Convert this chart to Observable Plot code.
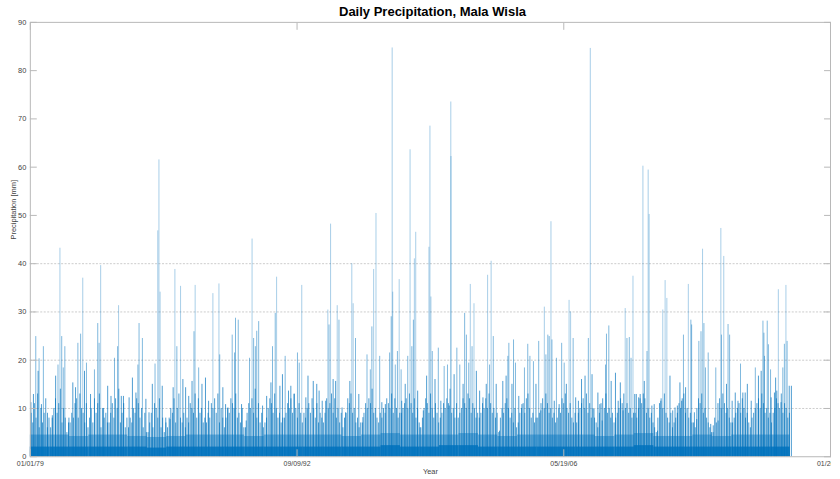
<!DOCTYPE html>
<html><head><meta charset="utf-8">
<script src="https://cdn.jsdelivr.net/npm/d3@7"></script>
<script src="https://cdn.jsdelivr.net/npm/@observablehq/plot@0.6"></script>
<style>
body{margin:0;background:#fff;font-family:"Liberation Sans",Arial,Helvetica,sans-serif;}
#wrap{width:831px;height:479px;overflow:hidden;position:relative;background:#fff;}
#title{position:absolute;left:30px;top:0;width:805px;height:22px;line-height:24px;text-align:center;font-weight:bold;font-size:13px;color:#000;z-index:2;}
</style></head><body>
<div id="wrap"><div id="chart"></div><div id="title">Daily Precipitation, Mala Wisla</div></div>
<script>
// Daily precipitation spikes: [decimal year, mm]
const peaks = [
[1979.03,11.2],[1979.16,12.9],[1979.28,24.9],[1979.40,17.7],[1979.45,20.3],[1979.57,10.8],[1979.67,22.8],[1979.88,9],[1980.13,8.5],[1980.30,16.7],[1980.42,19],[1980.52,43.2],[1980.61,24.9],[1980.69,18.4],[1980.77,22.8],[1980.98,8],[1981.18,15.3],[1981.32,14.3],[1981.44,23.5],[1981.58,25.4],[1981.69,37],[1981.78,17.7],[1981.88,19.4],[1982.09,12.9],[1982.29,18],[1982.46,27.6],[1982.53,23.5],[1982.61,39.6],[1982.76,10],[1982.97,14.6],[1983.14,12.5],[1983.32,20.4],[1983.48,22.8],[1983.53,31.3],
[1983.67,12.5],[1983.78,12.5],[1984.07,12.2],[1984.24,16.3],[1984.42,13.2],[1984.52,19],[1984.58,27.6],[1984.75,24.5],[1984.93,11.9],[1985.09,9.1],[1985.26,15],[1985.40,19.2],[1985.54,46.8],[1985.60,61.5],[1985.66,34.1],[1985.77,14.6],[1985.95,8],[1986.17,7.7],[1986.33,14.3],[1986.42,38.8],[1986.52,22.8],[1986.71,35.3],[1986.83,16],[1986.97,14.3],[1987.13,12.5],[1987.30,15.6],[1987.40,25.9],[1987.46,35.5],[1987.64,18.4],[1987.81,15],[1987.99,16.3],[1988.15,11.5],[1988.37,33.8],
[1988.68,35.8],[1988.72,21.1],[1988.88,14.3],[1989.02,10.8],[1989.14,10.1],[1989.36,25.2],[1989.48,21.5],[1989.53,28.7],[1989.67,28.3],[1989.84,10.8],[1990.08,7.4],[1990.25,20.4],[1990.38,45.1],[1990.46,24.5],[1990.55,22.8],[1990.62,26],[1990.72,28],[1990.92,10.5],[1991.13,12.5],[1991.35,15.3],[1991.43,22.8],[1991.57,29.7],[1991.64,37.2],[1991.81,14.6],[1991.94,17],[1992.08,20.8],[1992.25,13.6],[1992.37,14.6],[1992.54,12.9],[1992.71,21.5],[1992.80,19.4],[1992.93,35.5],[1993.14,12.2],
[1993.25,16.7],[1993.52,15.6],[1993.70,15],[1993.82,13.6],[1993.98,11.5],[1994.16,11.5],[1994.27,30.4],[1994.33,27.3],[1994.41,48.2],[1994.54,16],[1994.67,15.6],[1994.75,31.3],[1994.84,28.3],[1995.00,10.1],[1995.18,9.1],[1995.40,15.6],[1995.50,40],[1995.57,31.7],[1995.69,24.5],[1995.86,12.9],[1996.07,8.1],[1996.28,21.1],[1996.45,18],[1996.53,26.9],[1996.62,38.8],[1996.74,50.4],[1996.93,20.8],[1997.04,11.2],[1997.22,10.8],[1997.44,21.5],[1997.52,29],[1997.57,84.7],[1997.60,34.1],[1997.73,19],[1997.84,21.8],[1997.93,36.7],[1998.03,18],[1998.06,11.5],
[1998.24,15],[1998.37,20.8],[1998.49,63.6],[1998.58,22.8],[1998.66,28.3],[1998.71,41],[1998.78,46.5],[1998.88,13.6],[1999.00,6],[1999.17,9.5],[1999.34,16.7],[1999.46,43.4],[1999.51,68.5],[1999.56,33.1],[1999.63,21.8],[1999.77,16],[1999.94,22.5],[2000.07,11.5],[2000.24,18.7],[2000.41,19],[2000.50,10.5],[2000.58,73.5],[2000.59,62.2],[2000.75,17],[2000.89,22.5],[2001.04,19],[2001.21,15],[2001.29,29.7],[2001.38,25.2],[2001.50,19.4],[2001.58,35.7],[2001.67,22.8],[2001.77,31.7],[2001.89,17.7],[2002.06,13.6],[2002.23,12.2],[2002.40,15],[2002.47,37.6],[2002.57,19],[2002.65,40.5],[2002.76,24.9],[2002.91,15],
[2003.08,5.3],[2003.25,15.6],[2003.42,16.7],[2003.51,20.8],[2003.56,23.5],[2003.72,15],[2003.80,24.2],[2003.90,19.4],[2004.07,12.5],[2004.23,10.8],[2004.36,18.4],[2004.53,23.3],[2004.64,20.8],[2004.82,19.7],[2004.95,15],[2005.09,23.9],[2005.20,9.5],[2005.38,31],[2005.46,21.1],[2005.56,25.2],[2005.63,24.9],[2005.72,48.7],[2005.77,24.2],[2005.89,11.5],[2006.00,20.4],[2006.14,10.8],[2006.27,23.5],[2006.40,19.4],[2006.51,15],[2006.65,32.4],[2006.73,30],[2006.86,24.5],[2006.99,12.2],[2007.13,11.5],[2007.29,16],[2007.47,16.7],[2007.64,24.5],[2007.74,84.6],
[2007.83,17],[2007.93,9.8],[2008.13,13.2],[2008.23,10.8],[2008.35,7.4],[2008.52,19],[2008.57,25.4],[2008.69,27.1],[2008.81,15.6],[2009.03,17.3],[2009.17,11.5],[2009.28,15.3],[2009.42,9.5],[2009.53,30.7],[2009.62,24.5],[2009.74,24.7],[2009.83,20.4],[2009.93,37.4],[2010.02,12.9],[2010.10,12.9],[2010.22,12.2],[2010.30,12.9],[2010.44,60.2],[2010.51,15.6],[2010.65,21.8],[2010.71,59.4],[2010.76,50.2],[2010.90,10.5],[2011.02,10.8],[2011.19,5.3],[2011.36,11.5],[2011.46,30.4],[2011.58,36.5],[2011.67,32.8],[2011.83,16.7],[2011.97,9.5],[2012.09,10.1],[2012.21,10.5],[2012.34,15.3],[2012.43,11.5],[2012.52,25.2],[2012.63,14.3],
[2012.77,35.7],[2012.90,28.3],[2012.94,27.3],[2013.08,9.1],[2013.20,7.7],[2013.31,23.9],[2013.42,25.9],[2013.50,43],[2013.57,27.6],[2013.65,18.4],[2013.79,21.5],[2013.92,6.7],[2014.05,6.4],[2014.18,18.4],[2014.30,7.4],[2014.44,47.3],[2014.47,25.2],[2014.59,41.5],[2014.73,15],[2014.81,27.4],[2014.89,25.2],[2015.02,11.5],[2015.18,13.2],[2015.32,11.5],[2015.45,19.2],[2015.57,13.2],[2015.69,13.2],[2015.80,15],[2016.00,11.5],[2016.21,18.4],[2016.37,16.7],[2016.51,17.7],[2016.60,28.1],[2016.65,25.6],[2016.68,20.8],[2016.82,28.1],[2016.88,23.2],[2016.99,18],[2017.02,12.2],[2017.19,13.2],[2017.25,16.3],[2017.31,13.6],[2017.39,34.6],[2017.53,11.2],[2017.62,18.4],[2017.70,23.3],[2017.78,35.5],[2017.84,23.9],[2017.95,14.6],[2018.06,14.6]
];

// Everyday (minor) rain days, one estimate per month of each year (mm)
const minorYears = [1979,1980,1981,1982,1983,1984,1985,1986,1987,1988,1989,1990,1991,1992,1993,1994,1995,1996,1997,1998,1999,2000,2001,2002,2003,2004,2005,2006,2007,2008,2009,2010,2011,2012,2013,2014,2015,2016,2017];
const minorMonths = [0.5,1.5,2.5,3.5,4.5,5.5,6.5,7.5,8.5,9.5,10.5,11.5];
const minorValues = [
[9,7,11,8,13,6,10,7,9,12,6,8],[6,8,10,12,9,11,14,7,10,8,5,7],[7,9,8,11,12,8,13,10,9,7,11,6],[8,10,7,12,9,11,13,6,10,8,9,7],
[7,9,11,8,12,10,14,7,9,11,6,8],[6,8,7,10,9,12,11,8,10,6,9,5],[5,7,9,6,11,10,8,12,6,8,5,7],[6,8,10,9,12,7,10,13,8,7,9,6],
[8,7,11,10,9,13,8,12,9,10,7,8],[7,9,8,11,10,12,9,13,7,10,8,6],[8,10,9,12,11,10,13,8,9,7,10,6],[6,9,11,10,12,9,14,8,11,7,9,6],
[7,8,10,12,11,9,13,10,8,9,7,8],[8,9,11,10,12,9,13,10,8,11,9,7],[9,8,10,11,9,12,10,8,11,7,9,8],[7,9,12,10,11,13,9,12,8,10,7,9],
[6,8,9,12,11,13,9,10,7,8,6,7],[7,9,11,10,12,11,14,9,10,8,7,9],[8,10,9,12,11,10,13,9,12,10,8,9],[9,10,11,12,10,13,11,9,12,8,10,7],
[6,8,10,12,11,9,13,10,8,11,9,7],[8,9,11,10,12,11,14,9,10,8,11,8],[9,10,12,11,10,13,12,9,11,10,8,9],[8,9,11,10,12,10,13,11,9,10,8,9],
[5,8,10,9,11,12,10,8,9,7,10,6],[7,9,10,11,9,12,13,10,8,9,7,8],[8,9,11,12,10,13,11,9,10,8,9,7],[8,10,9,12,11,13,10,9,11,8,7,9],
[7,9,10,11,12,10,13,9,11,8,10,8],[7,6,9,11,12,10,13,9,10,8,9,7],[8,9,10,12,11,13,10,11,9,10,8,9],[9,8,10,12,11,13,12,9,10,8,9,7],
[6,5,8,11,12,10,13,9,8,7,9,6],[7,8,9,11,10,12,13,9,10,8,9,7],[7,6,10,12,11,13,9,10,8,7,6,5],[5,8,7,11,12,10,13,11,9,10,8,7],
[7,8,9,10,11,9,12,10,8,9,7,6],[8,9,10,11,12,10,13,11,9,10,8,9],[7,9,10,12,11,10,13,9,11,10,8,9]
];

// Saturated low bands of everyday values, read per year (mm)
const denseLevel = [2,2,2,2,2,2,1.8,2,2,2,2,2,2,2,2,2,2,2,2.3,2,2,2.3,2.3,2,2,2,2,2,2,2,2,2.3,2,2,2,2,2,2,2];
const busyLevel  = [4.5,4.5,4.2,4.5,4.5,4.2,4,4.2,4.5,4.5,4.5,4.2,4.5,4.5,4.5,4.5,4.2,4.5,4.8,4.5,4.5,4.5,4.8,4.5,4.2,4.5,4.5,4.5,4.5,4.2,4.5,4.8,4.2,4.2,4.5,4.2,4.5,4.5,4.5];
const dataEnd = 2018.1;

const xDomain = ["1979-01-01", "2020-01-26"];
const xTickDates = ["1979-01-01", "1992-09-09", "2006-05-19", "2020-01-26"];
const yTicks = [0,10,20,30,40,50,60,70,80,90];
const gridValues = [10,20,30,40];
const yLabel = "Precipitation [mm]";
const xLabel = "Year";

const toDate = y => { const yr = Math.floor(y); const s = Date.UTC(yr,0,1), e = Date.UTC(yr+1,0,1); return new Date(s + (y-yr)*(e-s)); };
const peakData = peaks.map(([y,v]) => ({date: toDate(y), value: v}));
const minorData = minorYears.flatMap((y,i) => minorMonths.map((m,j) => ({date: toDate(y + m/12), value: minorValues[i][j]})));
const bandData = minorYears.map((y,i) => ({x1: toDate(y), x2: toDate(Math.min(y+1, dataEnd)), dense: denseLevel[i], busy: busyLevel[i]}));
const xt = xTickDates.map(d => new Date(d + "T00:00Z"));
const fmt = d3.utcFormat("%m/%d/%y");
const blue = "#0072BD";
const axisGray = "#b8b8b8";

const chart = Plot.plot({
  width: 836, height: 479,
  marginLeft: 30, marginRight: 1, marginTop: 22, marginBottom: 20,
  style: {fontFamily: '"Liberation Sans", Arial, Helvetica, sans-serif', fontSize: "7.5px", color: "#444", background: "white"},
  x: {type: "utc", domain: xDomain.map(d => new Date(d + "T00:00Z")), label: null},
  y: {domain: [0, 90], label: null},
  marks: [
    Plot.ruleY(gridValues, {stroke: "#cccccc", strokeDasharray: "2,1.5"}),
    Plot.rectY(bandData, {x1: "x1", x2: "x2", y: "busy", fill: blue, fillOpacity: 0.45}),
    Plot.ruleX(minorData, {x: "date", y: "value", stroke: blue, strokeWidth: 1, strokeOpacity: 0.7}),
    Plot.rectY(bandData, {x1: "x1", x2: "x2", y: "dense", fill: blue, fillOpacity: 0.85}),
    Plot.ruleX(peakData, {x: "date", y: "value", stroke: blue, strokeWidth: 1,
      strokeOpacity: d => d.value >= 30 ? 0.35 : d.value >= 18 ? 0.5 : 0.7}),
    Plot.frame({stroke: axisGray}),
    Plot.axisY({ticks: yTicks, tickSize: -7, tickPadding: 11, stroke: axisGray, fill: "#444"}),
    Plot.axisY({anchor: "right", ticks: yTicks, tickSize: -7, tickFormat: () => "", stroke: axisGray}),
    Plot.axisX({ticks: xt, tickSize: -7, tickPadding: 11, tickFormat: fmt, stroke: axisGray, fill: "#444", fontSize: 7}),
    Plot.axisX({anchor: "top", ticks: xt, tickSize: -7, tickFormat: () => "", stroke: axisGray}),
    Plot.text([yLabel], {frameAnchor: "left", rotate: -90, dx: -17, fill: "#444", fontSize: 7.5}),
    Plot.text([xLabel], {frameAnchor: "bottom", dy: 17, fill: "#444", fontSize: 7.5})
  ]
});
document.getElementById("chart").append(chart);
</script>
</body></html>
